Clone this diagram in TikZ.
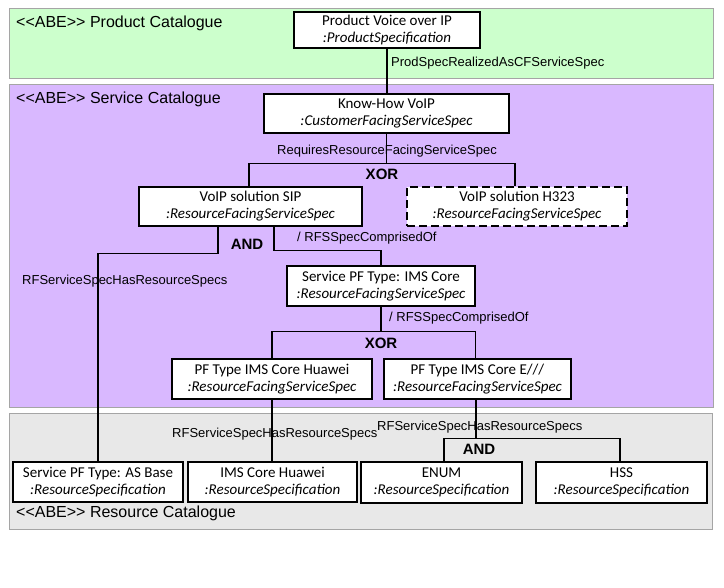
\documentclass[tikz,border=0pt]{standalone}
\usepackage{fontspec}
\setmainfont{Liberation Sans}
\newfontfamily\boxfont{Carlito}
\newcommand{\abe}{<\kern0pt<ABE>\kern0pt>}
\definecolor{prodgreen}{RGB}{204,255,204}
\definecolor{servpurple}{RGB}{217,184,255}
\definecolor{resgray}{RGB}{232,232,232}
\definecolor{panelline}{RGB}{165,165,165}
\tikzset{
  panel/.style={draw=panelline, line width=0.8pt},
  spec/.style={draw, line width=1.5pt, fill=white, align=center, inner sep=0pt,
    font={\boxfont\fontsize{15}{17}\selectfont}},
  lbl/.style={inner sep=0pt, font={\fontsize{13}{15}\selectfont}},
  title/.style={inner sep=0pt, anchor=west, font={\fontsize{16}{18}\selectfont}},
  gate/.style={inner sep=0pt, font={\bfseries\fontsize{15}{18}\selectfont}},
  link/.style={line width=1.5pt}
}
\begin{document}
\begin{tikzpicture}[x=1pt, y=-1pt]
      \useasboundingbox (0,0) rectangle (724,588);
      % catalogues
      \draw[panel, fill=prodgreen] (9,8) rectangle (713,78);
      \draw[panel, fill=servpurple] (9,84) rectangle (713,407);
      \draw[panel, fill=resgray] (9,413) rectangle (712,529);
      \node[title] (prodcat) at (16,23) {\abe{} Product Catalogue};
      \node[title] (servcat) at (16,99) {\abe{} Service Catalogue};
      \node[title] (rescat) at (16,513) {\abe{} Resource Catalogue};
      % specifications
      \node[spec, minimum width=186pt, minimum height=36pt] (prod) at (387,30) {Product Voice over IP\\\textit{:ProductSpecification}};
      \node[spec, minimum width=245pt, minimum height=39pt] (knowhow) at (386.5,113.5) {Know-How VoIP\\\textit{:CustomerFacingServiceSpec}};
      \node[spec, minimum width=223pt, minimum height=39pt] (sip) at (250.5,206.5) {VoIP solution SIP\\\textit{:ResourceFacingServiceSpec}};
      \node[spec, minimum width=220pt, minimum height=39pt, dash pattern=on 8pt off 4pt] (h323) at (517,206.5) {VoIP solution H323\\\textit{:ResourceFacingServiceSpec}};
      \node[spec, minimum width=188pt, minimum height=40pt] (servpf) at (381,286) {Service PF Type: IMS Core\\\textit{:ResourceFacingServiceSpec}};
      \node[spec, minimum width=200pt, minimum height=40pt] (rfshuawei) at (272,379) {PF Type IMS Core Huawei\\\textit{:ResourceFacingServiceSpec}};
      \node[spec, minimum width=187pt, minimum height=40pt] (rfsericsson) at (477.5,379) {PF Type IMS Core E///\\\textit{:ResourceFacingServiceSpec}};
      \node[spec, minimum width=170pt, minimum height=40pt] (asbase) at (98,482) {Service PF Type: AS Base\\\textit{:ResourceSpecification}};
      \node[spec, minimum width=169pt, minimum height=40pt] (rshuawei) at (272.5,482) {IMS Core Huawei\\\textit{:ResourceSpecification}};
      \node[spec, minimum width=161pt, minimum height=41pt] (enum) at (441.5,482.5) {ENUM\\\textit{:ResourceSpecification}};
      \node[spec, minimum width=171pt, minimum height=41pt] (hss) at (621.5,482.5) {HSS\\\textit{:ResourceSpecification}};
      % association labels
      \node[lbl, anchor=west] (realized) at (391,63) {ProdSpecRealizedAsCFServiceSpec};
      \node[lbl] (requires) at (387,151) {RequiresResourceFacingServiceSpec};
      \node[gate] (xorsip) at (382,174) {XOR};
      \node[gate] (andsip) at (247,244) {AND};
      \node[lbl, anchor=west] (comprisedsip) at (297,238) {/ RFSSpecComprisedOf};
      \node[lbl, anchor=west] (hasasbase) at (22,281) {RFServiceSpecHasResourceSpecs};
      \node[lbl, anchor=west] (comprisedims) at (389,318) {/ RFSSpecComprisedOf};
      \node[gate] (xorims) at (381,343) {XOR};
      \node[lbl, anchor=west] (hashuawei) at (172,434) {RFServiceSpecHasResourceSpecs};
      \node[lbl, anchor=west] (hasericsson) at (377,427) {RFServiceSpecHasResourceSpecs};
      \node[gate] (andericsson) at (479,449) {AND};
      % associations
      \draw[link] (prod.south) -- (prod.south |- knowhow.north);
      \draw[link] (knowhow.south) -- ++(0,30) coordinate (barsip);
      \draw[link] ([xshift=-1.5pt]sip.north) |- (barsip) -| ([xshift=-2pt]h323.north);
      \draw[link] ([xshift=-32.5pt]sip.south) -- ++(0,27) -| (asbase.north);
      \draw[link] ([xshift=23.5pt]sip.south) -- ++(0,24) -| (servpf.north);
      \draw[link] (servpf.south) -- ++(0,25) coordinate (barims);
      \draw[link] (rfshuawei.north) |- (barims) -| ([xshift=-2pt]rfsericsson.north);
      \draw[link] (rfshuawei.south) -- (rfshuawei.south |- rshuawei.north);
      \draw[link] ([xshift=-1.5pt]rfsericsson.south) -- ++(0,39) coordinate (barericsson);
      \draw[link] ([xshift=2.5pt]enum.north) |- (barericsson) -| ([xshift=-1.5pt]hss.north);
    \end{tikzpicture}
\end{document}
